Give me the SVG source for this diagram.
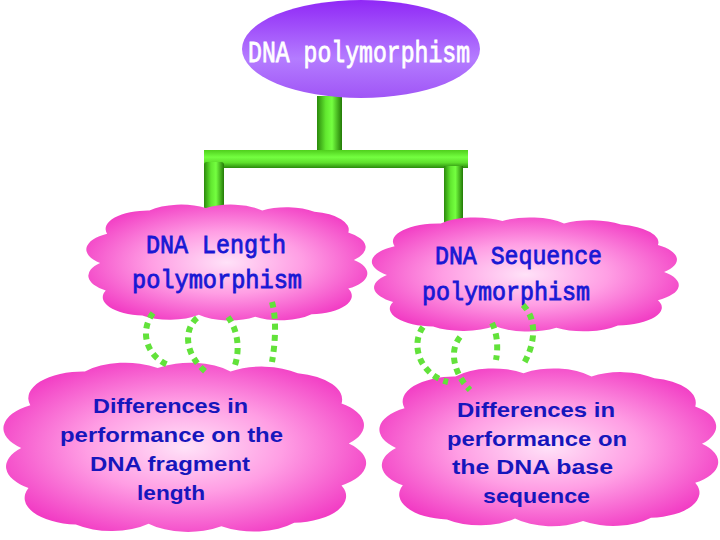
<svg xmlns="http://www.w3.org/2000/svg" xmlns:xlink="http://www.w3.org/1999/xlink" width="720" height="540" viewBox="0 0 720 540">
<defs>
<linearGradient id="purple" x1="0" y1="0" x2="0" y2="1">
<stop offset="0" stop-color="#9028f6"/>
<stop offset="0.6" stop-color="#b47cff"/>
<stop offset="1" stop-color="#a055f6"/>
</linearGradient>
<radialGradient id="pink" cx="0.5" cy="0.5" r="0.6">
<stop offset="0" stop-color="#ffe2f8"/>
<stop offset="0.45" stop-color="#ff9ee4"/>
<stop offset="1" stop-color="#f030c0"/>
</radialGradient>
<linearGradient id="pipeV" x1="0" y1="0" x2="1" y2="0">
<stop offset="0" stop-color="#2b8a0c"/>
<stop offset="0.35" stop-color="#62e830"/>
<stop offset="0.6" stop-color="#74ff40"/>
<stop offset="1" stop-color="#237a06"/>
</linearGradient>
<linearGradient id="pipeH" x1="0" y1="0" x2="0" y2="1">
<stop offset="0" stop-color="#4fcf1c"/>
<stop offset="0.4" stop-color="#74ff40"/>
<stop offset="0.7" stop-color="#5ee02c"/>
<stop offset="1" stop-color="#2a8a0c"/>
</linearGradient>
<path id="cloud" d="M-0.55,-0.86 A0.3,0.3 0 0 1 -0.15,-0.9 A0.3,0.3 0 0 1 0.25,-0.86 A0.3,0.3 0 0 1 0.62,-0.84 A0.3,0.3 0 0 1 0.86,-0.5 A0.3,0.3 0 0 1 0.9,-0.05 A0.3,0.3 0 0 1 0.86,0.42 A0.3,0.3 0 0 1 0.6,0.84 A0.3,0.3 0 0 1 0.2,0.88 A0.3,0.3 0 0 1 -0.2,0.85 A0.3,0.3 0 0 1 -0.6,0.86 A0.3,0.3 0 0 1 -0.86,0.45 A0.3,0.3 0 0 1 -0.9,0 A0.3,0.3 0 0 1 -0.85,-0.48 A0.3,0.3 0 0 1 -0.55,-0.86 Z"/>
</defs>
<style>
.cloud{fill:url(#pink);}
.mono{font-family:"Liberation Mono","DejaVu Sans Mono",monospace;stroke-width:0.8px;}
.blue{fill:#1818d4;stroke:#1818d4;font-size:25px;}
.sans{font-family:"Liberation Sans",Arial,sans-serif;font-weight:bold;font-size:21px;fill:#1616bc;}
.dot{fill:none;stroke:#62e23a;stroke-width:6;stroke-dasharray:6 5;}
</style>
<rect width="720" height="540" fill="#ffffff"/>
<g id="pipes">
<rect x="317" y="96" width="25" height="57" fill="url(#pipeV)"/>
<rect x="204" y="150" width="264" height="18" fill="url(#pipeH)"/>
<rect x="204" y="162" width="20" height="56" rx="3" fill="url(#pipeV)"/>
<rect x="444" y="166" width="19" height="64" fill="url(#pipeV)"/>
</g>
<g id="root">
<ellipse cx="361" cy="49" rx="119" ry="49" fill="url(#purple)"/>
<text class="mono" x="248" y="62" font-size="30" fill="#ffffff" stroke="#ffffff" textLength="222" lengthAdjust="spacingAndGlyphs">DNA polymorphism</text>
</g>
<g id="length">
<use xlink:href="#cloud" class="cloud" transform="translate(227,263) scale(141,61)"/>
<text class="mono blue" x="146" y="253" textLength="140" lengthAdjust="spacingAndGlyphs">DNA Length</text>
<text class="mono blue" x="132" y="288" textLength="170" lengthAdjust="spacingAndGlyphs">polymorphism</text>
</g>
<g id="sequence">
<use xlink:href="#cloud" class="cloud" transform="translate(525.5,275) scale(154,60)"/>
<text class="mono blue" x="435" y="264" textLength="167" lengthAdjust="spacingAndGlyphs">DNA Sequence</text>
<text class="mono blue" x="422" y="300" textLength="168" lengthAdjust="spacingAndGlyphs">polymorphism</text>
</g>
<g id="fragment">
<use xlink:href="#cloud" class="cloud" transform="translate(185,448) scale(182,89)"/>
<text class="sans" x="93" y="413" textLength="155" lengthAdjust="spacingAndGlyphs">Differences in</text>
<text class="sans" x="60" y="442" textLength="223" lengthAdjust="spacingAndGlyphs">performance on the</text>
<text class="sans" x="90" y="471" textLength="160" lengthAdjust="spacingAndGlyphs">DNA fragment</text>
<text class="sans" x="137" y="500" textLength="68" lengthAdjust="spacingAndGlyphs">length</text>
</g>
<g id="base">
<use xlink:href="#cloud" class="cloud" transform="translate(549,448) scale(170,83)"/>
<text class="sans" x="457" y="417" textLength="158" lengthAdjust="spacingAndGlyphs">Differences in</text>
<text class="sans" x="447" y="446" textLength="180" lengthAdjust="spacingAndGlyphs">performance on</text>
<text class="sans" x="452" y="474" textLength="161" lengthAdjust="spacingAndGlyphs">the DNA base</text>
<text class="sans" x="483" y="503" textLength="107" lengthAdjust="spacingAndGlyphs">sequence</text>
</g>
<g id="connectors">
<path class="dot" d="M153,313 C140,330 145,355 168,365"/>
<path class="dot" d="M197,318 C183,330 185,355 206,372"/>
<path class="dot" d="M228,317 C238,330 240,350 235,365"/>
<path class="dot" d="M272,302 C277,320 275,345 272,362"/>
<path class="dot" d="M423,327 C410,345 420,375 448,382"/>
<path class="dot" d="M460,337 C448,352 455,375 470,390"/>
<path class="dot" d="M492,323 C498,335 498,350 496,360"/>
<path class="dot" d="M523,305 C538,320 535,345 523,365"/>
</g>
</svg>
